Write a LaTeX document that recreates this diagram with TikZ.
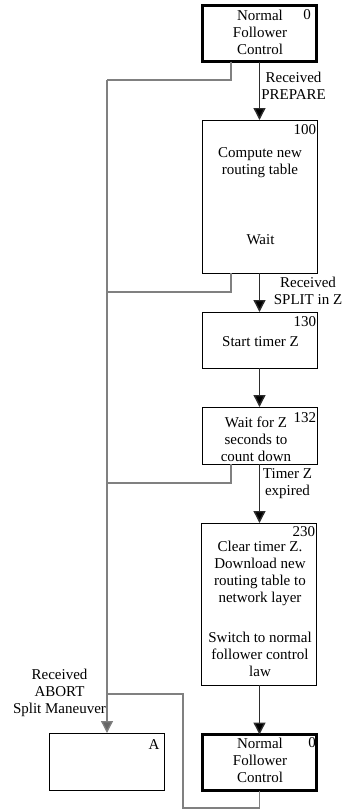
\documentclass[tikz,border=0pt]{standalone}
\usepackage{fontspec}
\setmainfont{Liberation Serif}
\usetikzlibrary{arrows.meta,calc}
\definecolor{fbgray}{RGB}{128,128,128}
\definecolor{maindark}{RGB}{45,45,45}
\begin{document}
\begin{tikzpicture}[x=1pt,y=-1pt,
  every node/.style={font=\fontsize{15}{17}\selectfont, inner sep=0pt, outer sep=0pt},
  statebox/.style={draw=black, line width=0.9pt, minimum width=115pt, anchor=center},
  thickbox/.style={draw=black, line width=3pt, minimum width=114pt, minimum height=56pt, anchor=center},
  txt/.style={align=center},
  num/.style={anchor=north east},
  mainarrow/.style={draw=maindark, line width=1.4pt, -{Triangle[width=12pt,length=12pt,fill=black]}},
  fb/.style={draw=fbgray, line width=1.3pt},
  fbarrow/.style={draw=fbgray, line width=1.3pt, -{Triangle[width=12pt,length=12pt,fill=fbgray!80!black]}}
]
\useasboundingbox (0,0) rectangle (344,811);

% boxes
\node[thickbox] (b0) at (259.5,33.5) {};
\node[statebox, minimum height=153pt] (b100) at (259.5,196.5) {};
\node[statebox, minimum height=56pt] (b130) at (259.5,340) {};
\node[statebox, minimum height=57pt] (b132) at (259.5,435.5) {};
\node[statebox, minimum height=162pt] (b230) at (258.5,604) {};
\node[thickbox] (bF) at (259.5,762.5) {};
\node[statebox, minimum height=57pt] (bA) at (107,761.5) {};

% box texts
\node[txt] (t0) at (260,32) {Normal\\Follower\\Control};
\node (n0) at (307,15) {0};
\node[txt] (t100a) at (260,163) {Compute new\\routing table};
\node (t100b) at (260.5,240) {Wait};
\node[num] (n100) at ($(b100.north east)+(-1,5)$) {100};
\node (t130) at (260.5,342) {Start timer Z};
\node[num] (n130) at ($(b130.north east)+(-1,5)$) {130};
\node[txt] (t132) at (256,439) {Wait for Z\\seconds to\\count down};
\node[num] (n132) at ($(b132.north east)+(-1,6)$) {132};
\node[txt] (t230) at (260,608.5) {Clear timer Z.\\Download new\\routing table to\\network layer\\[23pt]Switch to normal\\follower control\\law};
\node[num] (n230) at ($(b230.north east)+(-1,4)$) {230};
\node[txt] (tF) at (260,760) {Normal\\Follower\\Control};
\node (nF) at (312,743) {0};
\node (nA) at (154,745) {A};

% transition labels
\node[txt] (l1) at (293.5,86) {Received\\PREPARE};
\node[txt] (l2) at (308,291) {Received\\SPLIT in Z};
\node[txt] (l3) at (287.5,483.5) {Timer Z\\expired};
\node[txt] (l4) at (59.5,693) {Received\\ABORT\\Split Maneuver};

% main arrows
\draw[mainarrow] (b0.south) -- (b100.north);
\draw[mainarrow] (b100.south) -- (b130.north);
\draw[mainarrow] (b130.south) -- (b132.north);
\draw[mainarrow] (b132.south) -- (b230.north -| b132.south);
\draw[mainarrow] (b230.south -| bF.north) -- (bF.north);

% abort feedback
\coordinate (s0) at (107,80);
\coordinate (k0) at (231,80);
\coordinate (k100) at (231,292);
\coordinate (k132) at (231,483);
\coordinate (r2) at (183,808);
\coordinate (r3) at (183,694);
\draw[fb] (b0.south -| k0) -- (k0) -- (s0);
\draw[fb] (b100.south -| k100) -- (k100) -- (k100 -| s0);
\draw[fb] (b132.south -| k132) -- (k132) -- (k132 -| s0);
\draw[fbarrow] (s0) -- (bA.north);
\draw[fb] (bF.south) -- (bF.south |- r2) -- (r2) -- (r3) -- (r3 -| s0);
\end{tikzpicture}
\end{document}
